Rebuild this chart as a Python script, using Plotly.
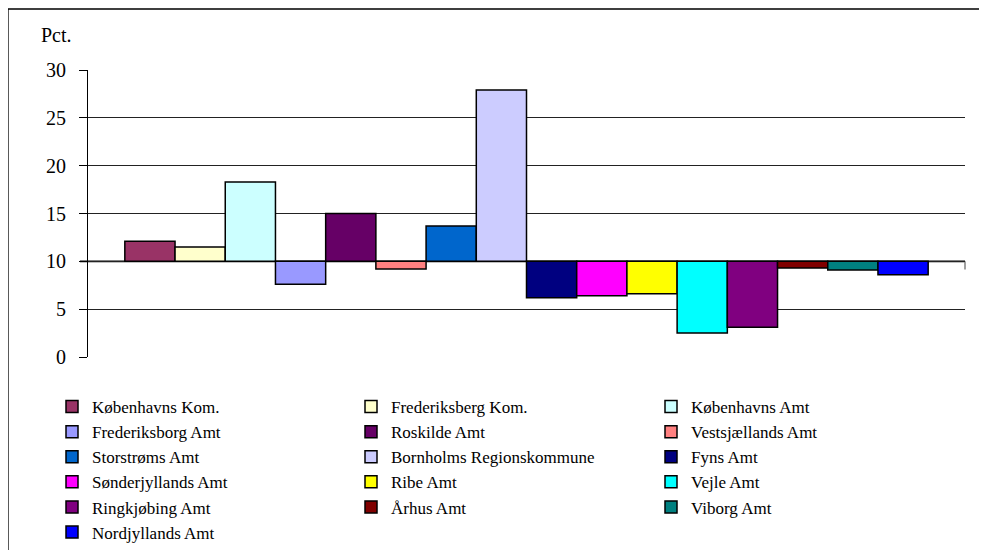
import plotly.graph_objects as go

names = ["Københavns Kom.", "Frederiksberg Kom.", "Københavns Amt",
         "Frederiksborg Amt", "Roskilde Amt", "Vestsjællands Amt",
         "Storstrøms Amt", "Bornholms Regionskommune", "Fyns Amt",
         "Sønderjyllands Amt", "Ribe Amt", "Vejle Amt",
         "Ringkjøbing Amt", "Århus Amt", "Viborg Amt", "Nordjyllands Amt"]
values = [12.1, 11.5, 18.3, 7.6, 15.0, 9.2, 13.7, 27.9,
          6.2, 6.4, 6.6, 2.5, 3.1, 9.3, 9.1, 8.6]
colors = ["#993366", "#FFFFCC", "#CCFFFF", "#9999FF", "#660066", "#FF8080",
          "#0066CC", "#CCCCFF", "#000080", "#FF00FF", "#FFFF00", "#00FFFF",
          "#800080", "#800000", "#008080", "#0000FF"]
cross_value = 10
y_ticks = [0, 5, 10, 15, 20, 25, 30]
y_title = "Pct."

FONT = "Liberation Serif"
W, H = 987, 550
OFF = 8  # page offset of the figure inside the window
ML, MR, MT, MB = 80, 30, 62, 201
PW, PH = W - ML - MR, H - MT - MB

fig = go.Figure()
legend_ids = ["legend", "legend2", "legend3"]
for i, (n, v, c) in enumerate(zip(names, values, colors)):
    fig.add_trace(go.Bar(
        x=[""], y=[v - cross_value], base=cross_value, name=n,
        marker=dict(color=c, line=dict(color="black", width=1.5)),
        legend=legend_ids[i % 3],
        hovertemplate=n + ": %{customdata}<extra></extra>", customdata=[v],
    ))

def sx(x):
    return (x - OFF - ML) / PW

def sy(y):
    return (H - MB - (y - OFF)) / PH

shapes = [
    # outer frame
    dict(type="rect", xref="paper", yref="paper",
         x0=sx(8), x1=sx(1000), y0=sy(580), y1=sy(9),
         line=dict(color="black", width=1.3), fillcolor="rgba(0,0,0,0)", layer="below"),
    # category axis line at crossing value
    dict(type="line", xref="x domain", yref="y", x0=-8 / PW, x1=1,
         y0=cross_value, y1=cross_value, line=dict(color="#808080", width=2.5), layer="below"),
    dict(type="line", xref="x domain", yref="y", x0=1, x1=1,
         y0=cross_value, y1=cross_value - 0.85, line=dict(color="#808080", width=1.5), layer="below"),
]

legend_common = dict(
    orientation="v", xref="container", yref="container", xanchor="left", yanchor="top",
    font=dict(family=FONT, size=17, color="black"), bgcolor="rgba(0,0,0,0)",
    itemclick=False, itemdoubleclick=False, traceorder="normal",
)
col_x = [44, 343, 643]
leg_top = 381
fig.update_layout(
    width=W, height=H,
    margin=dict(l=ML, r=MR, t=MT, b=MB, autoexpand=False),
    paper_bgcolor="white", plot_bgcolor="white",
    barmode="group", bargap=0.084, bargroupgap=0,
    font=dict(family=FONT, size=18, color="black"),
    xaxis=dict(showticklabels=False, showgrid=False, zeroline=False, showline=False,
               ticks="", fixedrange=True),
    yaxis=dict(range=[0, 30], tickvals=y_ticks, showgrid=True, gridcolor="#222222",
               gridwidth=1, zeroline=False, showline=True, linecolor="black", linewidth=1,
               ticks="outside", ticklen=8, tickcolor="black", tickwidth=1,
               ticklabelstandoff=9,
               tickfont=dict(family=FONT, size=20, color="black"), fixedrange=True),
    showlegend=True,
    legend=dict(x=col_x[0] / W, y=1 - leg_top / H, **legend_common),
    legend2=dict(x=col_x[1] / W, y=1 - leg_top / H, **legend_common),
    legend3=dict(x=col_x[2] / W, y=1 - leg_top / H, **legend_common),
    shapes=shapes,
    annotations=[dict(text=y_title, xref="paper", yref="paper", x=sx(39), y=sy(35),
                      xanchor="left", yanchor="middle", showarrow=False,
                      font=dict(family=FONT, size=20, color="black"))],
)

fig.write_html("out.html")
